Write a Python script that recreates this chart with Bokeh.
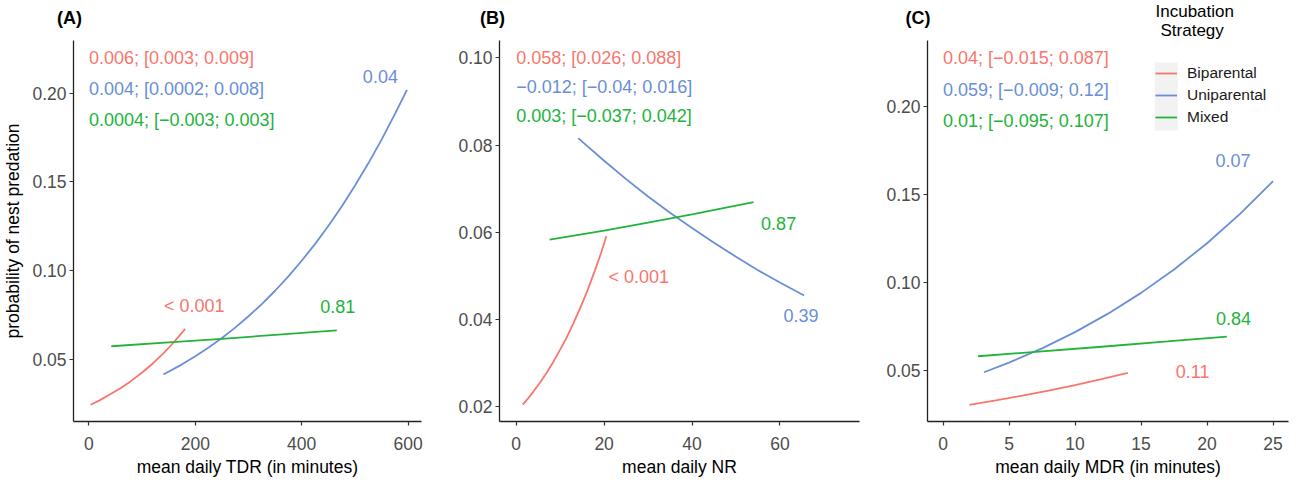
from bokeh.plotting import figure
from bokeh.layouts import row, column
from bokeh.models import FixedTicker, PrintfTickFormatter, Legend, LegendItem, Range1d, BoxAnnotation
from bokeh.embed import file_html
from bokeh.resources import INLINE
from bokeh.core.properties import value

RED = "#F8766D"
BLUE = "#6A8FD6"
GREEN = "#22B33B"
FONT = "Liberation Sans"

# ---------------- Panel A : mean daily TDR ----------------
a_bi_x = [3, 20, 40, 60, 80, 100, 120, 140, 160, 181]
a_bi_y = [0.0243, 0.0268, 0.0302, 0.0338, 0.0379, 0.0425, 0.0476, 0.0533, 0.0597, 0.0671]
a_uni_x = [140, 175, 200, 225, 250, 275, 300, 325, 350, 375, 400, 425, 450, 475, 500, 525, 550, 575, 598]
a_uni_y = [0.0414, 0.0471, 0.0517, 0.0566, 0.0620, 0.0678, 0.0742, 0.0811, 0.0886, 0.0967, 0.1055,
           0.1149, 0.1251, 0.1360, 0.1478, 0.1603, 0.1737, 0.1880, 0.2019]
a_mix_x = [42, 150, 250, 350, 466]
a_mix_y = [0.0573, 0.0595, 0.0615, 0.0637, 0.0662]
a_stats = ["0.006; [0.003; 0.009]", "0.004; [0.0002; 0.008]", "0.0004; [\u22120.003; 0.003]"]
a_stats_x = [0, 0, 0]
a_stats_y = [0.2201, 0.2021, 0.1846]
a_p = ["< 0.001", "0.04", "0.81"]
a_p_x = [198, 548, 468]
a_p_y = [0.0799, 0.2094, 0.0799]
a_xticks = [0, 200, 400, 600]
a_yticks = [0.05, 0.10, 0.15, 0.20]

# ---------------- Panel B : mean daily NR ----------------
b_bi_x = [1.5, 2.75, 4, 5.5, 7, 8.5, 10, 11.5, 13, 14.5, 16, 17, 18, 19.25, 20.5]
b_bi_y = [0.0205, 0.0220, 0.0236, 0.0257, 0.0279, 0.0304, 0.0331, 0.0359, 0.0391, 0.0425,
          0.0461, 0.0488, 0.0515, 0.0551, 0.0591]
b_uni_x = [14.1, 20, 25, 30, 35, 40, 45, 50, 55, 60, 65.5]
b_uni_y = [0.0816, 0.0764, 0.0722, 0.0682, 0.0645, 0.0610, 0.0576, 0.0544, 0.0513, 0.0485, 0.0455]
b_mix_x = [7.6, 20, 30, 40, 54]
b_mix_y = [0.0583, 0.0604, 0.0622, 0.0641, 0.0669]
b_stats = ["0.058; [0.026; 0.088]", "\u22120.012; [\u22120.04; 0.016]", "0.003; [\u22120.037; 0.042]"]
b_stats_x = [0, 0, 0]
b_stats_y = [0.1000, 0.0933, 0.0866]
b_p = ["< 0.001", "0.39", "0.87"]
b_p_x = [27.9, 64.8, 59.7]
b_p_y = [0.0498, 0.0409, 0.0621]
b_xticks = [0, 20, 40, 60]
b_yticks = [0.02, 0.04, 0.06, 0.08, 0.10]

# ---------------- Panel C : mean daily MDR ----------------
c_bi_x = [2, 4, 6, 8, 10, 12, 14]
c_bi_y = [0.0305, 0.0330, 0.0357, 0.0386, 0.0417, 0.0451, 0.0487]
c_uni_x = [3.1, 5, 7.5, 10, 12.5, 15, 17.5, 20, 22.5, 25]
c_uni_y = [0.0490, 0.0545, 0.0626, 0.0718, 0.0823, 0.0941, 0.1074, 0.1223, 0.1390, 0.1576]
c_mix_x = [2.65, 7, 12, 17, 21.5]
c_mix_y = [0.0581, 0.0606, 0.0635, 0.0665, 0.0693]
c_stats = ["0.04; [\u22120.015; 0.087]", "0.059; [\u22120.009; 0.12]", "0.01; [\u22120.095; 0.107]"]
c_stats_x = [0, 0, 0]
c_stats_y = [0.2273, 0.2093, 0.1917]
c_p = ["0.11", "0.07", "0.84"]
c_p_x = [18.9, 21.97, 22.0]
c_p_y = [0.0496, 0.1695, 0.0797]
c_xticks = [0, 5, 10, 15, 20, 25]
c_yticks = [0.05, 0.10, 0.15, 0.20]

strategies = ["Biparental", "Uniparental", "Mixed"]
colors = [RED, BLUE, GREEN]

# header texts (panel tags and legend title), placed in a pixel-space strip
tags = ["(A)", "(B)", "(C)"]
tag_x = [56.5, 479.5, 905]
tag_y = [23, 23, 23]
legend_title = ["Incubation", "Strategy"]
legend_title_x = [1155, 1160]
legend_title_y = [29, 10.5]

PANEL_H = 446


def make_panel(xlabel, ylabel, xr, yr, width, mb_left, mb_right,
               series, stats, stats_x, stats_y, pvals, px, py, xticks, yticks, xfmt, yfmt):
    p = figure(width=width, height=PANEL_H, output_backend="svg", toolbar_location=None,
               x_range=Range1d(*xr), y_range=Range1d(*yr),
               min_border_left=mb_left, min_border_right=mb_right,
               min_border_top=0, min_border_bottom=65)
    p.outline_line_color = None
    p.xgrid.visible = False
    p.ygrid.visible = False
    p.background_fill_color = "white"
    p.border_fill_color = "white"
    for ax, ticks, fmt, lab in ((p.xaxis[0], xticks, xfmt, xlabel), (p.yaxis[0], yticks, yfmt, ylabel)):
        ax.ticker = FixedTicker(ticks=ticks)
        ax.formatter = PrintfTickFormatter(format=fmt)
        ax.minor_tick_line_color = None
        ax.major_tick_in = 0
        ax.major_tick_out = 4
        ax.axis_line_color = "#222222"
        ax.axis_line_width = 1.3
        ax.major_tick_line_color = "#333333"
        ax.major_tick_line_width = 1.2
        ax.major_label_text_font = FONT
        ax.major_label_text_font_size = "17.5px"
        ax.major_label_text_color = "#4D4D4D"
        ax.axis_label = lab
        ax.axis_label_text_font = FONT
        ax.axis_label_text_font_size = "17.5px"
        ax.axis_label_text_font_style = "normal"
        ax.axis_label_text_color = "#000000"
    p.xaxis[0].major_label_standoff = 11
    p.xaxis[0].axis_label_standoff = 4
    p.yaxis[0].major_label_standoff = 3
    p.yaxis[0].axis_label_standoff = 6

    renderers = []
    for (xs, ys), col in zip(series, colors):
        r = p.line(xs, ys, line_color=col, line_width=1.8)
        renderers.append(r)
    p.text(x=stats_x, y=stats_y, text=stats, text_color=colors, text_font=value(FONT),
           text_font_size="18px", text_align="left", text_baseline="middle")
    p.text(x=px, y=py, text=pvals, text_color=colors, text_font=value(FONT),
           text_font_size="18px", text_align="center", text_baseline="middle")
    return p, renderers


pA, _ = make_panel("mean daily TDR (in minutes)", "probability of nest predation",
                   (-29.06, 625.3), (0.01487, 0.2297), 430, 72, 9,
                   [(a_bi_x, a_bi_y), (a_uni_x, a_uni_y), (a_mix_x, a_mix_y)],
                   a_stats, a_stats_x, a_stats_y, a_p, a_p_x, a_p_y, a_xticks, a_yticks, "%d", "%.2f")
pB, _ = make_panel("mean daily NR", "",
                   (-3.80, 78.1), (0.01663, 0.10397), 430, 69, 1,
                   [(b_bi_x, b_bi_y), (b_uni_x, b_uni_y), (b_mix_x, b_mix_y)],
                   b_stats, b_stats_x, b_stats_y, b_p, b_p_x, b_p_y, b_xticks, b_yticks, "%d", "%.2f")
pC, rC = make_panel("mean daily MDR (in minutes)", "",
                    (-1.18, 26.17), (0.02102, 0.2375), 438, 67, 10,
                    [(c_bi_x, c_bi_y), (c_uni_x, c_uni_y), (c_mix_x, c_mix_y)],
                    c_stats, c_stats_x, c_stats_y, c_p, c_p_x, c_p_y, c_xticks, c_yticks, "%d", "%.2f")

# legend key background (ggplot grey95)
pC.add_layout(BoxAnnotation(left=16.04, right=17.78, bottom=0.1864, top=0.2250,
                            fill_color="#F2F2F2", fill_alpha=1.0, line_color=None, level="underlay"))
legend = Legend(items=[LegendItem(label=s, renderers=[r]) for s, r in zip(strategies, rC)],
                location=(228, 293), orientation="vertical",
                glyph_width=22, glyph_height=22, label_height=22, spacing=0,
                padding=0, margin=0, label_standoff=10,
                border_line_alpha=0, background_fill_alpha=0,
                label_text_font=FONT, label_text_font_size="15.5px", label_text_color="#1A1A1A")
pC.add_layout(legend, "center")

# header strip: panel tags + legend title
head = figure(width=1298, height=486 - PANEL_H, output_backend="svg", toolbar_location=None,
              x_range=Range1d(0, 1298), y_range=Range1d(0, 486 - PANEL_H),
              x_axis_type=None, y_axis_type=None,
              min_border_left=0, min_border_right=0, min_border_top=0, min_border_bottom=0)
head.outline_line_color = None
head.xgrid.visible = False
head.ygrid.visible = False
head.text(x=tag_x, y=tag_y, text=tags, text_font=value(FONT), text_font_size="18px",
          text_font_style="bold", text_color="#000000", text_align="left", text_baseline="middle")
head.text(x=legend_title_x, y=legend_title_y, text=legend_title, text_font=value(FONT),
          text_font_size="17px", text_color="#000000", text_align="left", text_baseline="middle")

layout = column(head, row(pA, pB, pC, spacing=0), spacing=0)
open("out.html", "w").write(file_html(layout, INLINE))
